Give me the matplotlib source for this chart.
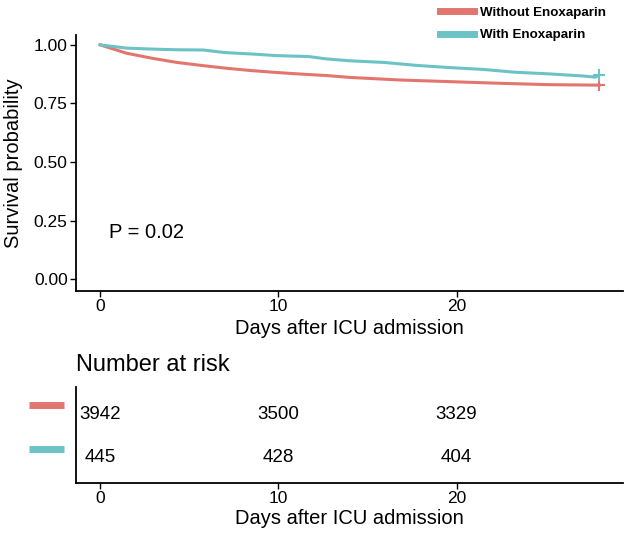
import numpy as np
import matplotlib.pyplot as plt
from matplotlib.transforms import blended_transform_factory

plt.rcParams['font.family'] = ['Liberation Sans', 'DejaVu Sans']

# survival curves (days, probability)
days_without = [0, 1.5, 2.9, 4.3, 5.7, 7.1, 8.5, 9.9, 11.3, 12.7, 14.0,
                16.8, 19.6, 22.4, 25.2, 28.0]
surv_without = [1.0, 0.964, 0.943, 0.925, 0.912, 0.900, 0.890, 0.882,
                0.875, 0.869, 0.861, 0.850, 0.843, 0.836, 0.830, 0.828]

days_with = [0, 1.5, 2.9, 4.3, 5.8, 7.0, 8.5, 9.9, 11.7, 12.7, 14.0,
             15.9, 17.8, 19.6, 21.5, 23.3, 25.2, 27.1, 27.8, 28.0]
surv_with = [1.0, 0.986, 0.982, 0.979, 0.978, 0.967, 0.961, 0.954, 0.950,
             0.940, 0.932, 0.925, 0.912, 0.903, 0.895, 0.883, 0.876, 0.867,
             0.862, 0.872]

groups = ['Without Enoxaparin', 'With Enoxaparin']
colors = ['#E2766E', '#6BC3C6']

risk_days = [0, 10, 20]
risk_without = [3942, 3500, 3329]
risk_with = [445, 428, 404]

fig = plt.figure(figsize=(6.24, 5.35), dpi=100)
ax = fig.add_axes([0.1218, 0.456, 0.877, 0.479])
tab = fig.add_axes([0.1218, 0.0972, 0.877, 0.1794])

# --- survival panel
lines = []
for d, s, c, lab in [(days_without, surv_without, colors[0], groups[0]),
                     (days_with, surv_with, colors[1], groups[1])]:
    ln, = ax.plot(d, s, color=c, lw=2.2, label=lab)
    lines.append(ln)
    ax.plot(d[-1], s[-1], marker='+', ms=9, mew=1.5, color=c)

ax.set_xlim(-1.35, 29.35)
ax.set_ylim(-0.051, 1.043)
ax.set_xticks([0, 10, 20])
ax.set_yticks([0, 0.25, 0.5, 0.75, 1.0])
ax.set_yticklabels(['0.00', '0.25', '0.50', '0.75', '1.00'])
ax.tick_params(labelsize=12.5, length=4, width=1, pad=2, color='black')
ax.set_xlabel('Days after ICU admission', fontsize=14.5, labelpad=3)
ax.set_ylabel('Survival probability', fontsize=14.5, labelpad=8)
for sp in ['top', 'right']:
    ax.spines[sp].set_visible(False)
for sp in ['left', 'bottom']:
    ax.spines[sp].set_linewidth(1.3)
ax.text(0.5, 0.2, 'P = 0.02', fontsize=14.5, va='center', ha='left')

leg = fig.legend(handles=lines, labels=groups,
                 loc='upper right', bbox_to_anchor=(0.99, 1.01),
                 frameon=False, handlelength=2.6, handletextpad=0.4,
                 labelspacing=0.75, prop={'weight': 'bold', 'size': 9.6})
for h in leg.get_lines():
    h.set_linewidth(5)

# --- number at risk table
tab.set_xlim(-1.35, 29.35)
tab.set_ylim(0.41, 2.59)
for x, n in zip(risk_days, risk_without):
    tab.text(x, 1.96, str(n), ha='center', va='center', fontsize=13.5)
for x, n in zip(risk_days, risk_with):
    tab.text(x, 0.98, str(n), ha='center', va='center', fontsize=13.5)

trans = blended_transform_factory(tab.transAxes, tab.transData)
for yv, c in [(2.18, colors[0]), (1.18, colors[1])]:
    tab.plot([-0.086, -0.022], [yv, yv], color=c, lw=5,
             transform=trans, clip_on=False, solid_capstyle='butt')

tab.set_xticks([0, 10, 20])
tab.set_yticks([])
tab.tick_params(labelsize=12.5, length=4, width=1, pad=2)
tab.set_xlabel('Days after ICU admission', fontsize=14.5, labelpad=2)
for sp in ['top', 'right']:
    tab.spines[sp].set_visible(False)
for sp in ['left', 'bottom']:
    tab.spines[sp].set_linewidth(1.3)
tab.text(0.0, 1.23, 'Number at risk', transform=tab.transAxes,
         fontsize=17, ha='left', va='center')

fig.savefig('out.png', dpi=100)
